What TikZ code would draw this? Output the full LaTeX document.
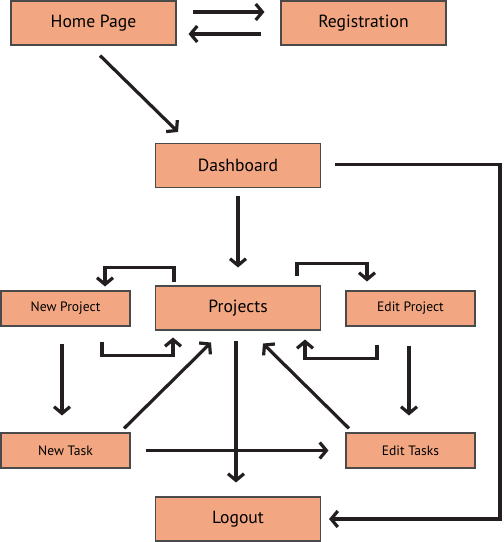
\documentclass[tikz,border=0pt]{standalone}
\usepackage{fontspec}
\setmainfont{PT Sans}
\usetikzlibrary{arrows.meta,calc}
\definecolor{boxfill}{HTML}{F2A782}
\definecolor{boxline}{HTML}{4A4A4A}
\definecolor{arrcol}{HTML}{231F20}
\tikzset{
  bigbox/.style={draw=boxline, line width=0.8pt, fill=boxfill, minimum width=123.75pt, minimum height=33pt, inner sep=0pt, font=\fontsize{13.2}{15}\selectfont},
  smallbox/.style={draw=boxline, line width=0.8pt, fill=boxfill, minimum width=96.75pt, minimum height=26.25pt, inner sep=0pt, font=\fontsize{10.2}{12}\selectfont},
  arr/.style={draw=arrcol, line width=2.4pt, -{Straight Barb[length=5pt,width=12pt,line width=2.4pt]}}
}
\begin{document}
\begin{tikzpicture}[x=0.75pt,y=-0.75pt]
\useasboundingbox (0,0) rectangle (503,542);
\node[bigbox] (home) at (93.5,23) {Home Page};
\node[bigbox] (reg) at (363.5,23) {Registration};
\node[bigbox] (dash) at (238,165.5) {Dashboard};
\node[bigbox] (proj) at (238,308) {Projects};
\node[smallbox] (np) at (65.5,308.5) {New Project};
\node[smallbox] (ep) at (410.5,308.5) {Edit Project};
\node[smallbox] (nt) at (65.5,450.5) {New Task};
\node[smallbox] (et) at (410.5,450.5) {Edit Tasks};
\node[bigbox] (logout) at (238,519) {Logout};

\draw[arr] ($(home.east)+(16,-11)$) -- ($(reg.west)+(-16,-11)$);
\draw[arr] ($(reg.west)+(-19,11)$) -- ($(home.east)+(12,11)$);
\draw[arr] ($(home.south)+(6.5,10)$) -- ($(dash.north)+(-60,-11)$);
\draw[arr] ($(dash.east)+(14,-1)$) -- ++(165,0) |- ($(logout.east)+(8,0)$);
\draw[arr] ($(dash.south)+(0,8)$) -- ($(proj.north)+(0,-18)$);
\draw[arr] ($(proj.north)+(-64,-3)$) -- ++(0,-15) -| ($(np.north)+(39.5,-4)$);
\draw[arr] ($(proj.north)+(59,-9)$) -- ++(0,-13) -| ($(ep.north)+(-43.5,-9)$);
\draw[arr] ($(np.south)+(36.5,15)$) -- ++(0,14) -| ($(proj.south)+(-65,7)$);
\draw[arr] ($(ep.south)+(-33.5,18)$) -- ++(0,14) -| ($(proj.south)+(67,9)$);
\draw[arr] ($(nt.north)+(58.5,-4)$) -- ($(proj.south)+(-27,12)$);
\draw[arr] ($(et.north)+(-61.5,-4)$) -- ($(proj.south)+(25,13)$);
\draw[arr] ($(proj.south)+(-2,10)$) -- ($(logout.north)+(-2,-14)$);
\draw[arr] ($(np.south)+(-3.5,17)$) -- ($(nt.north)+(-3.5,-17)$);
\draw[arr] ($(ep.south)+(-1.5,19)$) -- ($(et.north)+(-1.5,-17)$);
\draw[arr] ($(nt.east)+(15,0)$) -- ($(et.west)+(-17,0)$);
\end{tikzpicture}
\end{document}
